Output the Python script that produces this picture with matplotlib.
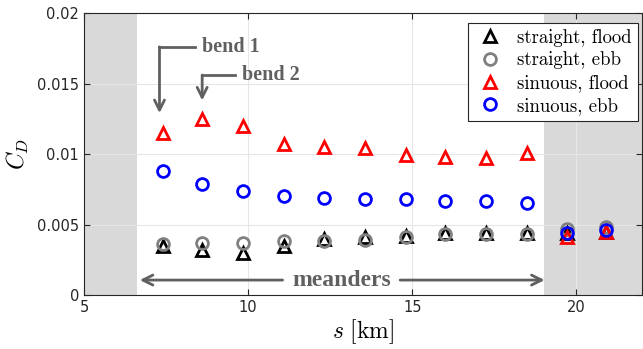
import matplotlib.pyplot as plt

plt.rcParams['mathtext.fontset'] = 'cm'

# distance along the channel (km)
s_km = [7.4, 8.6, 9.85, 11.1, 12.3, 13.55, 14.8, 16.0, 17.25, 18.5, 19.7, 20.9]

straight_flood = [0.0035, 0.0032, 0.0030, 0.0035, 0.0040, 0.0041,
                  0.0042, 0.0044, 0.0044, 0.0044, 0.0044, 0.0045]
straight_ebb = [0.0036, 0.0037, 0.0037, 0.0038, 0.0038, 0.0039,
                0.0041, 0.0043, 0.0043, 0.0043, 0.0047, 0.0048]
sinuous_flood = [0.0115, 0.0125, 0.0120, 0.0107, 0.0105, 0.0104,
                 0.0099, 0.0098, 0.0097, 0.0101, 0.0041, 0.0045]
sinuous_ebb = [0.0088, 0.0079, 0.0074, 0.0070, 0.0069, 0.0068,
               0.0068, 0.0067, 0.0067, 0.0065, 0.0044, 0.0046]

labels = ['straight, flood', 'straight, ebb', 'sinuous, flood', 'sinuous, ebb']

fig = plt.figure(figsize=(6.43, 3.49), dpi=100)
ax = fig.add_axes([0.1306, 0.1547, 0.868, 0.808])

ax.axvspan(5, 6.6, color='#d9d9d9', zorder=0, lw=0)
ax.axvspan(19.0, 22, color='#d9d9d9', zorder=0, lw=0)

ms = 8.5
mew = 2
ax.plot(s_km, straight_flood, '^', ms=ms, mfc='none', mec='black', mew=mew,
        label=labels[0], zorder=3)
ax.plot(s_km, straight_ebb, 'o', ms=ms, mfc='none', mec='gray', mew=mew,
        label=labels[1], zorder=3)
ax.plot(s_km, sinuous_flood, '^', ms=ms, mfc='none', mec='red', mew=mew,
        label=labels[2], zorder=3)
ax.plot(s_km, sinuous_ebb, 'o', ms=ms, mfc='none', mec='blue', mew=mew,
        label=labels[3], zorder=3)

ax.set_xlim(5, 22)
ax.set_ylim(0, 0.02)
ax.set_xticks([5, 10, 15, 20])
ax.set_yticks([0, 0.005, 0.01, 0.015, 0.02])
ax.set_yticklabels(['0', '0.005', '0.01', '0.015', '0.02'])
ax.grid(True, color='#e6e6e6', lw=0.8, zorder=1)
ax.set_axisbelow(True)
ax.tick_params(direction='in', top=True, right=True, labelsize=10.5,
               colors='#262626', length=4)
for sp in ax.spines.values():
    sp.set_color('#262626')
    sp.set_linewidth(0.8)

ax.set_xlabel(r'$s\ \mathrm{[km]}$', fontsize=17, labelpad=2)
ax.set_ylabel(r'$C_D$', fontsize=17, labelpad=4)

leg = ax.legend(loc='upper right', prop=dict(family='cmr10', size=13.5),
                frameon=True, fancybox=False,
                edgecolor='#262626', framealpha=1, borderpad=0.3,
                handletextpad=0.6, labelspacing=0.26, handlelength=1.75,
                bbox_to_anchor=(0.992, 0.965), borderaxespad=0)
leg.get_frame().set_linewidth(0.8)

gray = '#606060'
tfont = dict(family='Liberation Serif', weight='bold', color=gray)
akw = dict(arrowstyle='->', color=gray, lw=2, shrinkA=0, shrinkB=0,
           mutation_scale=18)

# bend 1
ax.plot([8.38, 7.3], [0.0176, 0.0176], color=gray, lw=2)
ax.annotate('', xy=(7.3, 0.0129), xytext=(7.3, 0.0176), arrowprops=akw)
ax.text(8.58, 0.0176, 'bend 1', fontsize=14.5, va='center', ha='left', **tfont)

# bend 2
ax.plot([9.6, 8.6], [0.0156, 0.0156], color=gray, lw=2)
ax.annotate('', xy=(8.6, 0.0138), xytext=(8.6, 0.0156), arrowprops=akw)
ax.text(9.82, 0.0156, 'bend 2', fontsize=14.5, va='center', ha='left', **tfont)

# meanders
ax.annotate('', xy=(6.7, 0.00106), xytext=(11.05, 0.00106), arrowprops=akw)
ax.annotate('', xy=(19.03, 0.00106), xytext=(14.63, 0.00106), arrowprops=akw)
ax.text(12.85, 0.00106, 'meanders', fontsize=17, va='center', ha='center',
        **tfont)

fig.savefig('out.png', dpi=100)
